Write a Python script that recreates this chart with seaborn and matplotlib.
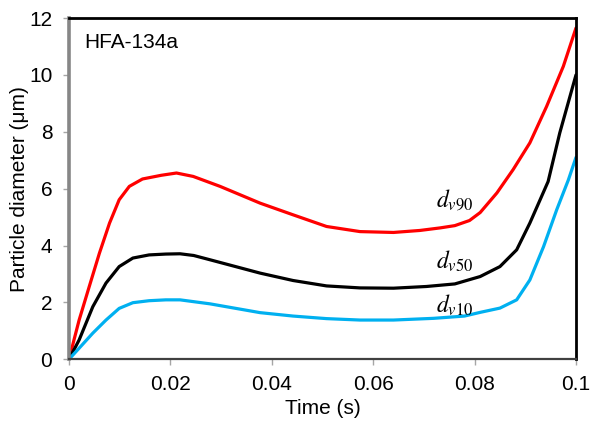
import numpy as np
import pandas as pd
import seaborn as sns
import matplotlib
matplotlib.use("Agg")
import matplotlib.pyplot as plt

# Particle size percentiles over time for HFA-134a
t_dv90 = [0, 0.0020, 0.0040, 0.0060, 0.0080, 0.0099, 0.0119, 0.0145, 0.0182, 0.0212,
          0.0245, 0.0298, 0.0377, 0.0442, 0.0508, 0.0574, 0.0640, 0.0692, 0.0732, 0.0761,
          0.0790, 0.0811, 0.0844, 0.0876, 0.0909, 0.0942, 0.0975, 0.1]
dv90 = [0, 1.38, 2.56, 3.73, 4.79, 5.61, 6.08, 6.34, 6.47, 6.55,
        6.43, 6.08, 5.49, 5.08, 4.67, 4.49, 4.46, 4.53, 4.62, 4.70,
        4.88, 5.16, 5.85, 6.67, 7.61, 8.89, 10.3, 11.65]

t_dv50 = [0, 0.0020, 0.0047, 0.0073, 0.0099, 0.0126, 0.0158, 0.0191, 0.0219, 0.0246,
          0.0278, 0.0377, 0.0442, 0.0508, 0.0574, 0.0640, 0.0705, 0.0761, 0.0811, 0.0850,
          0.0883, 0.0909, 0.0929, 0.0945, 0.0968, 0.1]
dv50 = [0, 0.68, 1.85, 2.68, 3.26, 3.56, 3.67, 3.70, 3.71, 3.65,
        3.50, 3.03, 2.77, 2.58, 2.51, 2.50, 2.56, 2.65, 2.91, 3.26,
        3.85, 4.79, 5.60, 6.25, 7.96, 10.0]

t_dv10 = [0, 0.0020, 0.0047, 0.0073, 0.0099, 0.0126, 0.0158, 0.0191, 0.0219, 0.0278,
          0.0377, 0.0442, 0.0508, 0.0574, 0.0640, 0.0719, 0.0780, 0.0811, 0.0850, 0.0883,
          0.0909, 0.0936, 0.0962, 0.0985, 0.1]
dv10 = [0, 0.39, 0.92, 1.38, 1.79, 1.99, 2.06, 2.09, 2.09, 1.95,
        1.64, 1.52, 1.43, 1.38, 1.38, 1.44, 1.52, 1.65, 1.80, 2.09,
        2.79, 3.96, 5.26, 6.31, 7.10]

series_names = ["dv90", "dv50", "dv10"]
series_colors = ["#FF0000", "#000000", "#00B0F0"]
series_labels = [r"$d_{v90}$", r"$d_{v50}$", r"$d_{v10}$"]
label_pos = [(0.0761, 5.61), (0.0760, 3.43), (0.0760, 1.91)]

x_ticks = [0, 0.02, 0.04, 0.06, 0.08, 0.1]
x_tick_labels = ["0", "0.02", "0.04", "0.06", "0.08", "0.1"]
y_ticks = [0, 2, 4, 6, 8, 10, 12]

frames = []
for name, t, d in zip(series_names, [t_dv90, t_dv50, t_dv10], [dv90, dv50, dv10]):
    frames.append(pd.DataFrame({"time": t, "diameter": d, "series": name}))
df = pd.concat(frames, ignore_index=True)

sns.set_theme(style="white")
plt.rcParams["font.family"] = ["Liberation Sans", "DejaVu Sans"]
plt.rcParams["mathtext.fontset"] = "stix"
plt.rcParams["text.color"] = "black"
plt.rcParams["axes.labelcolor"] = "black"
plt.rcParams["xtick.color"] = "black"
plt.rcParams["ytick.color"] = "black"

fig = plt.figure(figsize=(6.02, 4.22), dpi=100)
ax = fig.add_axes([0.1146, 0.1486, 0.8422, 0.8087])

sns.lineplot(data=df, x="time", y="diameter", hue="series",
             palette=dict(zip(series_names, series_colors)),
             estimator=None, sort=False, linewidth=2.3, legend=False, ax=ax)
for line in ax.get_lines():
    line.set_solid_joinstyle("round")
    line.set_solid_capstyle("round")

ax.set_xlim(0, 0.1)
ax.set_ylim(0, 12)
ax.set_xticks(x_ticks)
ax.set_xticklabels(x_tick_labels)
ax.set_yticks(y_ticks)
ax.set_xlabel("Time (s)", fontsize=15, labelpad=4)
ax.set_ylabel("Particle diameter (μm)", fontsize=15, labelpad=0)
ax.tick_params(axis="both", which="major", labelsize=15, direction="out",
               length=4, width=1, color="#A6A6A6", labelcolor="black",
               bottom=True, left=True)
ax.tick_params(axis="y", pad=8)
ax.tick_params(axis="x", pad=7)

ax.spines["left"].set_color("#868686")
ax.spines["left"].set_linewidth(2.6)
ax.spines["bottom"].set_color("#404040")
ax.spines["bottom"].set_linewidth(1.6)
for side in ["top", "right"]:
    ax.spines[side].set_color("#000000")
    ax.spines[side].set_linewidth(2.0)

ax.text(0.031, 0.927, "HFA-134a", transform=ax.transAxes, fontsize=15,
        ha="left", va="center", color="black")

for lbl, (lx, ly) in zip(series_labels, label_pos):
    ax.text(lx, ly, lbl, fontsize=17, ha="center", va="center", color="black")

fig.savefig("out.png", dpi=100)
